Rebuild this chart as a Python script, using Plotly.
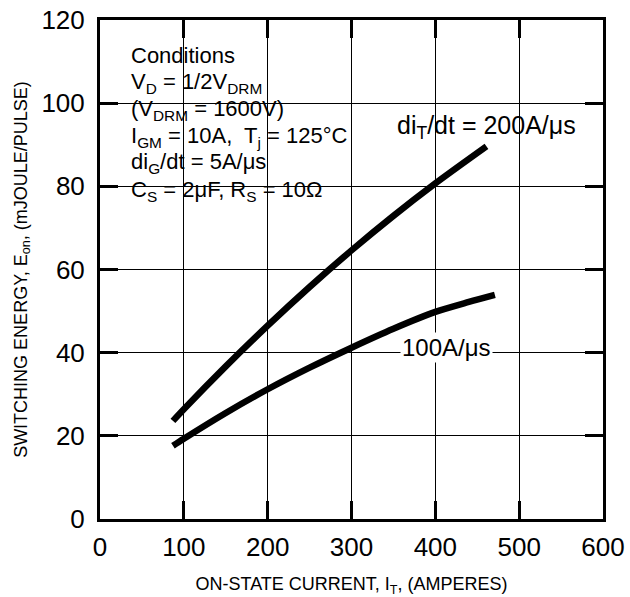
import plotly.graph_objects as go

# ---- data ----
x_200 = [87, 100, 150, 200, 250, 300, 350, 400, 461]
y_200 = [23.6, 26.4, 36.7, 46.5, 55.8, 64.6, 72.9, 80.7, 89.6]

x_100 = [87, 100, 150, 200, 250, 300, 350, 400, 440, 471]
y_100 = [17.6, 19.3, 25.5, 31.2, 36.4, 41.2, 45.75, 49.8, 52.2, 53.9]

x_ticks = [0, 100, 200, 300, 400, 500, 600]
y_ticks = [0, 20, 40, 60, 80, 100, 120]

label_200 = "di<sub>T</sub>/dt = 200A/μs"
label_100 = "100A/μs"
conditions = [
    "Conditions",
    "V<sub>D</sub> = 1/2V<sub>DRM</sub>",
    "(V<sub>DRM</sub> = 1600V)",
    "I<sub>GM</sub> = 10A,  T<sub>j</sub> = 125°C",
    "di<sub>G</sub>/dt = 5A/μs",
    "C<sub>S</sub> = 2μF, R<sub>S</sub> = 10Ω",
]
x_title = "ON-STATE CURRENT, I<sub>T</sub>, (AMPERES)"
y_title = "SWITCHING ENERGY, E<sub>on</sub>, (mJOULE/PULSE)"

FONT = "Liberation Sans, Arial, Helvetica, sans-serif"

fig = go.Figure()
for xs, ys in ((x_200, y_200), (x_100, y_100)):
    fig.add_trace(go.Scatter(x=xs, y=ys, mode="lines",
                             line=dict(color="black", width=6.5, shape="spline", smoothing=0.8),
                             showlegend=False, hoverinfo="skip"))

# white box hiding gridlines behind the conditions text
fig.add_shape(type="rect", xref="paper", yref="paper",
              x0=0.0, x1=0.517, y0=0.625, y1=0.954,
              fillcolor="white", line=dict(width=0), layer="between")

# conditions text, one line each (top pixel rows)
line_top = [41, 67, 94, 121, 147, 175]
for txt, py in zip(conditions, line_top):
    fig.add_annotation(text=txt, xref="paper", yref="paper",
                       x=(129 - 100) / 503, y=(519 - py) / 499,
                       xanchor="left", yanchor="top", showarrow=False,
                       font=dict(family=FONT, size=22, color="black"))

fig.add_annotation(text=label_200, x=352, y=94.3, xanchor="left", yanchor="middle",
                   showarrow=False, font=dict(family=FONT, size=25, color="black"))
fig.add_annotation(text=label_100, x=358, y=41.2, xanchor="left", yanchor="middle",
                   showarrow=False, bgcolor="white", borderpad=1,
                   font=dict(family=FONT, size=24, color="black"))

axis_common = dict(
    showgrid=True, gridcolor="black", gridwidth=1.3,
    showline=True, linecolor="black", linewidth=3, mirror="ticks",
    ticks="inside", ticklen=18, tickwidth=2.5, tickcolor="black",
    zeroline=False,
    tickfont=dict(family=FONT, size=26, color="black"),
)

fig.update_xaxes(range=[0, 600], tickvals=x_ticks, ticktext=[str(v) for v in x_ticks],
                 ticklabelstandoff=3,
                 title=dict(text=x_title, standoff=22,
                            font=dict(family=FONT, size=18, color="black")),
                 **axis_common)
fig.update_yaxes(range=[0, 120], tickvals=y_ticks, ticktext=[str(v) for v in y_ticks],
                 ticklabelstandoff=7,
                 title=dict(text=y_title, standoff=10,
                            font=dict(family=FONT, size=18, color="black")),
                 **axis_common)

fig.update_layout(
    width=630, height=597,
    margin=dict(l=100, r=27, t=20, b=78, autoexpand=False),
    paper_bgcolor="white", plot_bgcolor="white",
    font=dict(family=FONT, color="black"),
)

fig.write_html("out.html", config={"displayModeBar": False},
               post_script="document.body.style.margin='0';")
